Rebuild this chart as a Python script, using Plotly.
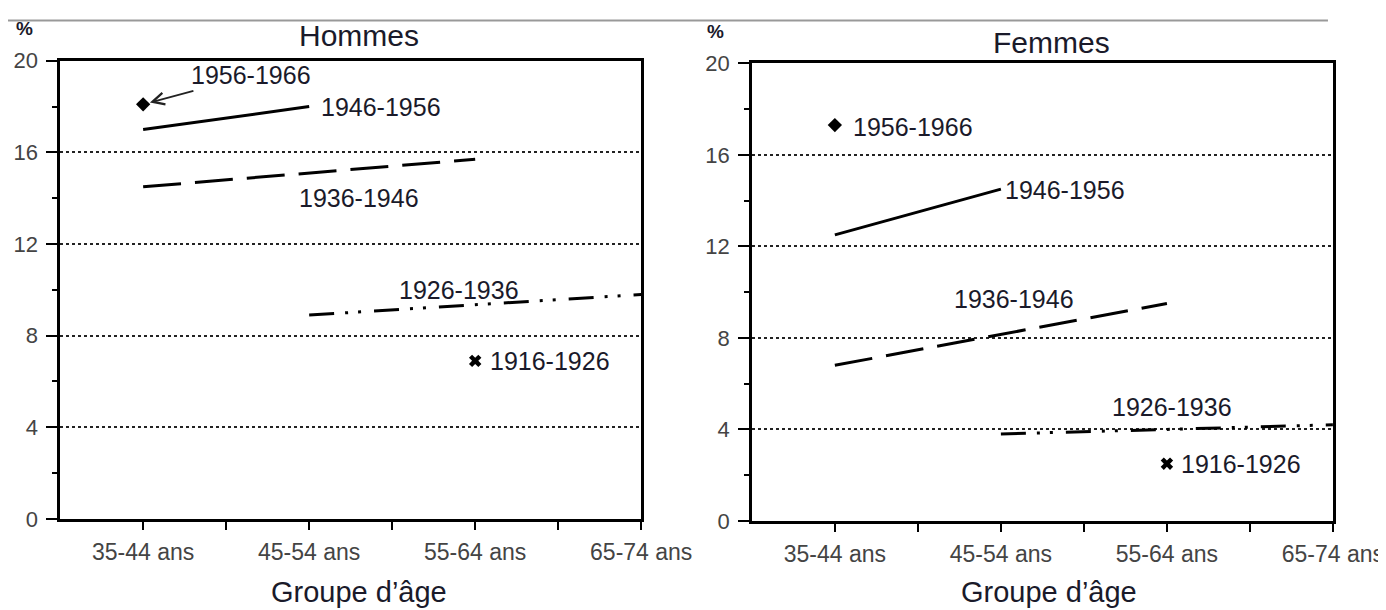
import plotly.graph_objects as go

# ---------------- data ----------------
ages = ["35-44 ans", "45-54 ans", "55-64 ans", "65-74 ans"]
cohorts = ["1956-1966", "1946-1956", "1936-1946", "1926-1936", "1916-1926"]

# values (%) per age group, None where the cohort is not observed
hommes = {
    "1956-1966": [18.1, None, None, None],
    "1946-1956": [17.0, 18.0, None, None],
    "1936-1946": [14.5, None, 15.7, None],
    "1926-1936": [None, 8.9, None, 9.8],
    "1916-1926": [None, None, 6.9, None],
}
femmes = {
    "1956-1966": [17.3, None, None, None],
    "1946-1956": [12.5, 14.5, None, None],
    "1936-1946": [6.8, None, 9.5, None],
    "1926-1936": [None, 3.8, None, 4.2],
    "1916-1926": [None, None, 2.5, None],
}
y_ticks = [0, 4, 8, 12, 16, 20]
y_minor = [2, 6, 10, 14, 18]

# ---------------- styles ----------------
FONT = "Liberation Sans, Arial, sans-serif"
styles = {
    "1956-1966": dict(mode="markers", marker=dict(symbol="diamond", size=11, color="black")),
    "1946-1956": dict(mode="lines", line=dict(color="black", width=3)),
    "1936-1946": dict(mode="lines", line=dict(color="black", width=3, dash="38px,14px")),
    "1926-1936": dict(mode="lines", line=dict(color="black", width=3,
                                              dash="25px,11px,3px,10px,3px,13px")),
    "1916-1926": dict(mode="markers", marker=dict(symbol="x", size=11, color="black")),
}

fig = go.Figure()
xs = list(range(len(ages)))
for data, xa, ya in [(hommes, "x", "y"), (femmes, "x2", "y2")]:
    for c in cohorts:
        vals = data[c]
        px = [x for x, v in zip(xs, vals) if v is not None]
        py = [v for v in vals if v is not None]
        fig.add_trace(go.Scatter(x=px, y=py, xaxis=xa, yaxis=ya, showlegend=False,
                                 hoverinfo="skip", **styles[c]))

# figure size and mapping from picture pixels to figure pixels
W, H = 1410, 612
SX, CX = 0.967, 5.7
SY, CY = 0.962, 19.6

def X(px):
    return ((px - CX) / SX) / W

def Y(py):
    return 1 - ((py - CY) / SY) / H

def xdom(a, b):
    return [X(a), X(b)]

def ydom(top, bot):
    return [Y(bot), Y(top)]

def xaxis(dom, anchor):
    return dict(domain=dom, anchor=anchor, range=[-0.5, 3], tickvals=xs, ticktext=ages,
                ticks="outside", ticklen=8, tickwidth=2, tickcolor="black",
                minor=dict(tickvals=[0.5, 1.5, 2.5], ticks="outside", ticklen=8,
                           tickwidth=2, tickcolor="black", showgrid=False),
                showline=True, linewidth=2.5, linecolor="black", mirror=True,
                showgrid=False, zeroline=False, ticklabelstandoff=3,
                tickfont=dict(family=FONT, size=23, color="#444"))

def yaxis(dom, anchor):
    return dict(domain=dom, anchor=anchor, range=[0, 20], tickvals=y_ticks,
                ticks="outside", ticklen=11, tickwidth=2, tickcolor="black",
                minor=dict(tickvals=y_minor, ticks="outside", ticklen=5, tickwidth=2,
                           tickcolor="black", showgrid=False),
                showline=True, linewidth=2.5, linecolor="black", mirror=True,
                showgrid=True, griddash="dot", gridcolor="#222", gridwidth=1.6,
                zeroline=False, ticklabelstandoff=4,
                tickfont=dict(family=FONT, size=22, color="#444"))

fig.update_layout(
    width=W, height=H, margin=dict(l=0, r=0, t=0, b=0),
    paper_bgcolor="white", plot_bgcolor="white",
    xaxis=xaxis(xdom(58, 641), "y"),
    yaxis=yaxis(ydom(60.5, 520), "x"),
    xaxis2=xaxis(xdom(752, 1335), "y2"),
    yaxis2=yaxis(ydom(63, 522), "x2"),
)

lfont = dict(family=FONT, size=25, color="#1a1a2a")
lab = dict(font=lfont, showarrow=False)
ann = []
# Hommes labels
ann.append(dict(x=0, y=hommes["1956-1966"][0], xref="x", yref="y", text="1956-1966",
                showarrow=True, ax=108, ay=-29, arrowhead=5, arrowsize=1.3, arrowwidth=1.8,
                arrowcolor="#222", standoff=7, font=lfont))
ann.append(dict(x=1.06, y=18.0, xref="x", yref="y", text="1946-1956", xanchor="left", **lab))
ann.append(dict(x=1.30, y=14.0, xref="x", yref="y", text="1936-1946", xanchor="center", **lab))
ann.append(dict(x=1.90, y=10.0, xref="x", yref="y", text="1926-1936", xanchor="center", **lab))
ann.append(dict(x=2.08, y=6.9, xref="x", yref="y", text="1916-1926", xanchor="left", **lab))
# Femmes labels
ann.append(dict(x=0.10, y=17.2, xref="x2", yref="y2", text="1956-1966", xanchor="left", **lab))
ann.append(dict(x=1.01, y=14.45, xref="x2", yref="y2", text="1946-1956", xanchor="left", **lab))
ann.append(dict(x=1.08, y=9.7, xref="x2", yref="y2", text="1936-1946", xanchor="center", **lab))
ann.append(dict(x=2.03, y=5.0, xref="x2", yref="y2", text="1926-1936", xanchor="center", **lab))
ann.append(dict(x=2.07, y=2.5, xref="x2", yref="y2", text="1916-1926", xanchor="left", **lab))

# titles, units, axis titles
tfont = dict(family=FONT, size=30, color="#1a1a2a")
for cx, cy, t in [(358, 35, "Hommes"), (1053, 42, "Femmes")]:
    ann.append(dict(x=X(cx), y=Y(cy), xref="paper", yref="paper", text=t,
                    showarrow=False, font=tfont, xanchor="center", yanchor="middle"))
for cx, cy in [(22, 28), (716, 31)]:
    ann.append(dict(x=X(cx), y=Y(cy), xref="paper", yref="paper", text="<b>%</b>",
                    showarrow=False, font=dict(family=FONT, size=19, color="#1a1a2a"),
                    xanchor="center", yanchor="middle"))
for cx in [358, 1050]:
    ann.append(dict(x=X(cx), y=Y(593), xref="paper", yref="paper", text="Groupe d\u2019\u00e2ge",
                    showarrow=False, font=dict(family=FONT, size=29, color="#1a1a2a"),
                    xanchor="center", yanchor="middle"))
fig.update_layout(annotations=ann)

# thin grey rule at the very top of the figure
fig.add_shape(type="line", xref="paper", yref="paper", x0=0, x1=X(1330),
              y0=0.999, y1=0.999, line=dict(color="#999", width=2))

fig.write_html("out.html")
